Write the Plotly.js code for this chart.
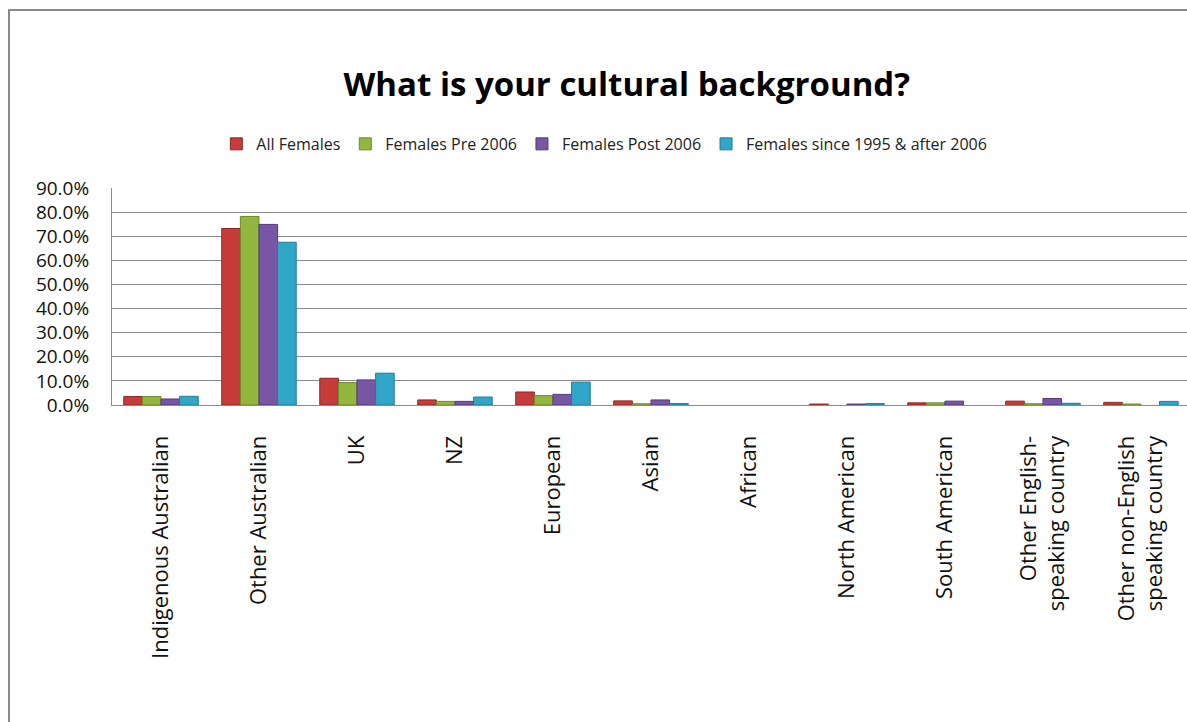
<!DOCTYPE html>
<html>
<head>
<meta charset="utf-8">
<script src="https://cdn.plot.ly/plotly-3.0.1.min.js"></script>
<style>
  html, body { margin: 0; padding: 0; background: #fff; overflow: hidden; }
  #frame { position: absolute; left: 8px; top: 9px; width: 1179px; height: 713px;
           border-left: 2px solid #8a8a8a; border-top: 2px solid #8a8a8a; box-sizing: border-box; }
  #chart { position: absolute; left: 10px; top: 11px; width: 1177px; height: 711px; }
</style>
</head>
<body>
<div id="frame"></div>
<div id="chart"></div>
<script>
const categories = ['Indigenous Australian', 'Other Australian', 'UK', 'NZ', 'European', 'Asian',
  'African', 'North American', 'South American', 'Other English-<br>speaking country',
  'Other non-English<br>speaking country'];
const seriesNames = ['All Females', 'Females Pre 2006', 'Females Post 2006', 'Females since 1995 & after 2006'];
const allFemales = [3.5, 73.2, 11.1, 2.1, 5.4, 1.7, 0, 0.4, 0.9, 1.6, 1.1];
const femalesPre2006 = [3.5, 78.2, 9.3, 1.5, 3.9, 0.5, 0, 0, 0.9, 0.5, 0.4];
const femalesPost2006 = [2.5, 74.9, 10.4, 1.5, 4.4, 2.1, 0, 0.4, 1.6, 2.7, 0];
const femalesSince1995 = [3.6, 67.5, 13.2, 3.3, 9.5, 0.6, 0, 0.6, 0, 0.7, 1.5];
const yTicks = [0, 10, 20, 30, 40, 50, 60, 70, 80, 90];
const yTickLabels = ['0.0%', '10.0%', '20.0%', '30.0%', '40.0%', '50.0%', '60.0%', '70.0%', '80.0%', '90.0%'];

const colors = ['#C73B3B', '#93B63E', '#7757A3', '#32A6C8'];
const edges = ['#8E2626', '#6A8A26', '#553A7E', '#1F7C98'];
const values = [allFemales, femalesPre2006, femalesPost2006, femalesSince1995];

const traces = values.map((v, i) => ({
  type: 'bar',
  name: seriesNames[i],
  x: categories,
  y: v,
  marker: { color: colors[i], line: { color: edges[i], width: v.map(d => d === 0 ? 0 : 1) } },
  hoverinfo: 'x+y+name'
}));

const layout = {
  width: 1177, height: 711,
  margin: { l: 102, r: 0, t: 177, b: 317, pad: 0 },
  paper_bgcolor: '#ffffff', plot_bgcolor: '#ffffff',
  font: { family: 'Open Sans, sans-serif', color: '#222' },
  title: {
    text: 'What is your cultural background?',
    font: { family: 'Open Sans, sans-serif', size: 33, color: '#000', weight: 'bold' },
    xref: 'container', x: 0.524, xanchor: 'center',
    yref: 'container', y: 0.896, yanchor: 'middle'
  },
  barmode: 'group', bargap: 0.24, bargroupgap: 0,
  showlegend: true,
  legend: {
    orientation: 'h', x: 0.458, xanchor: 'center', y: 1.203, yanchor: 'middle',
    font: { family: 'Open Sans, sans-serif', size: 16, color: '#222' },
    itemwidth: 30, traceorder: 'normal', bgcolor: 'rgba(0,0,0,0)'
  },
  xaxis: {
    type: 'category', range: [-0.5, 10.47], fixedrange: true,
    tickangle: -90, tickfont: { family: 'Open Sans, sans-serif', size: 22, color: '#111' },
    ticks: 'outside', ticklen: 21, tickcolor: 'rgba(0,0,0,0)',
    showline: true, linecolor: '#8c8c8c', linewidth: 1,
    showgrid: false, zeroline: false
  },
  yaxis: {
    range: [0, 90], tickmode: 'array', tickvals: yTicks, ticktext: yTickLabels,
    tickfont: { family: 'Open Sans, sans-serif', size: 19, color: '#111' },
    ticks: 'outside', ticklen: 18, tickcolor: 'rgba(0,0,0,0)',
    showline: true, linecolor: '#8c8c8c', linewidth: 1,
    showgrid: true, gridcolor: '#8c8c8c', gridwidth: 1,
    zeroline: false, fixedrange: true
  }
};

Plotly.newPlot('chart', traces, layout, { displayModeBar: false, staticPlot: true });
</script>
</body>
</html>
